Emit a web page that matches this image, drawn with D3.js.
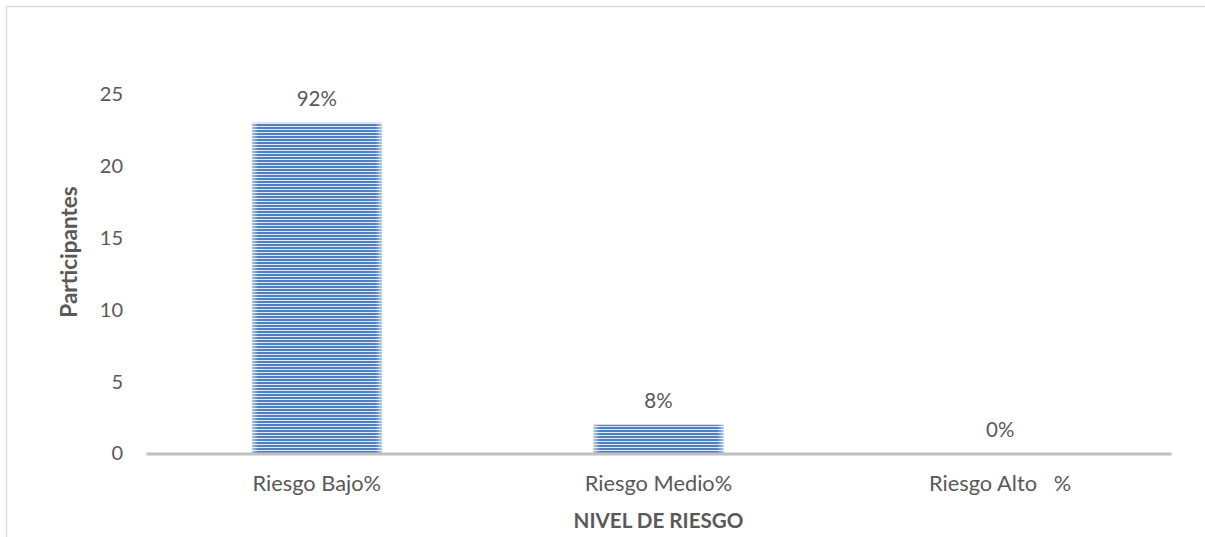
<!DOCTYPE html>
<html>
<head>
<meta charset="utf-8">
<script src="https://cdn.jsdelivr.net/npm/d3@7"></script>
<style>
  html, body { margin: 0; padding: 0; background: #fff; }
  svg { display: block; }
  text { font-family: Lato, "Open Sans", sans-serif; fill: #595959; }
</style>
</head>
<body>
<svg id="chart" width="1205" height="537"></svg>
<script>
const categories = ["Riesgo Bajo%", "Riesgo Medio%", "Riesgo Alto   %"];
const values = [23, 2, 0];
const percentLabels = ["92%", "8%", "0%"];
const yTicks = [0, 5, 10, 15, 20, 25];
const yTitle = "Participantes";
const xTitle = "NIVEL DE RIESGO";

const svg = d3.select("#chart");
const W = 1205, H = 537;
const plot = { left: 146, right: 1171, top: 94, bottom: 453.5 };

// chart border (only top/left visible)
svg.append("rect")
  .attr("x", 6.5).attr("y", 6.5)
  .attr("width", W + 10).attr("height", H + 10)
  .attr("fill", "#fff").attr("stroke", "#d9d9d9").attr("stroke-width", 1.3);

const defs = svg.append("defs");
const pat = defs.append("pattern")
  .attr("id", "stripes").attr("patternUnits", "userSpaceOnUse")
  .attr("width", 8).attr("height", 3);
pat.append("rect").attr("width", 8).attr("height", 3).attr("fill", "#dfe8f5");
pat.append("rect").attr("y", 1).attr("width", 8).attr("height", 2).attr("fill", "#4f7fc3");

const grad = defs.append("linearGradient").attr("id", "edge")
  .attr("x1", "0").attr("x2", "1").attr("y1", "0").attr("y2", "0");
[[0, 0.55], [0.05, 0.0], [0.95, 0.0], [1, 0.55]].forEach(([o, a]) =>
  grad.append("stop").attr("offset", o).attr("stop-color", "#ffffff").attr("stop-opacity", a));

const x = d3.scaleBand().domain(categories)
  .range([plot.left, plot.right]).paddingInner(0.62).paddingOuter(0.31);
const y = d3.scaleLinear().domain([0, 25]).range([plot.bottom, plot.top]);

// y axis labels
const yAxis = svg.append("g").attr("transform", `translate(123,0)`)
  .call(d3.axisLeft(y).tickValues(yTicks).tickSize(0).tickPadding(0));
yAxis.select(".domain").remove();
yAxis.selectAll("text").style("font-size", "20px").attr("fill", "#595959")
  .style("font-family", "Lato, sans-serif");

// bars
const bars = svg.append("g");
bars.selectAll("rect.bar").data(values).join("rect")
  .attr("class", "bar")
  .attr("x", (d, i) => x(categories[i]))
  .attr("y", d => y(d))
  .attr("width", x.bandwidth())
  .attr("height", d => y(0) - y(d))
  .attr("fill", "url(#stripes)");
bars.selectAll("rect.edge").data(values).join("rect")
  .attr("class", "edge")
  .attr("x", (d, i) => x(categories[i]))
  .attr("y", d => y(d))
  .attr("width", x.bandwidth())
  .attr("height", d => y(0) - y(d))
  .attr("fill", "url(#edge)");

// x axis
const xAxis = svg.append("g").attr("transform", `translate(0,${plot.bottom})`)
  .call(d3.axisBottom(x).tickSize(0).tickPadding(0));
xAxis.select(".domain").attr("stroke", "#bfbfbf").attr("stroke-width", 3);
xAxis.selectAll("text").attr("y", 37).attr("dy", null)
  .style("font-size", "21.8px").attr("fill", "#595959")
  .style("font-family", "Lato, sans-serif")
  .style("white-space", "pre").attr("xml:space", "preserve");

// data labels
svg.append("g").selectAll("text").data(values).join("text")
  .attr("x", (d, i) => x(categories[i]) + x.bandwidth() / 2)
  .attr("y", d => y(d) - 17)
  .attr("text-anchor", "middle")
  .style("font-size", "20.5px")
  .text((d, i) => percentLabels[i]);

// axis titles
svg.append("text")
  .attr("transform", `translate(77,252) rotate(-90)`)
  .attr("text-anchor", "middle")
  .style("font-size", "22.5px").style("font-weight", "bold")
  .text(yTitle);
svg.append("text")
  .attr("x", (plot.left + plot.right) / 2).attr("y", 528)
  .attr("text-anchor", "middle")
  .style("font-size", "20.6px").style("font-weight", "bold")
  .text(xTitle);
</script>
</body>
</html>
